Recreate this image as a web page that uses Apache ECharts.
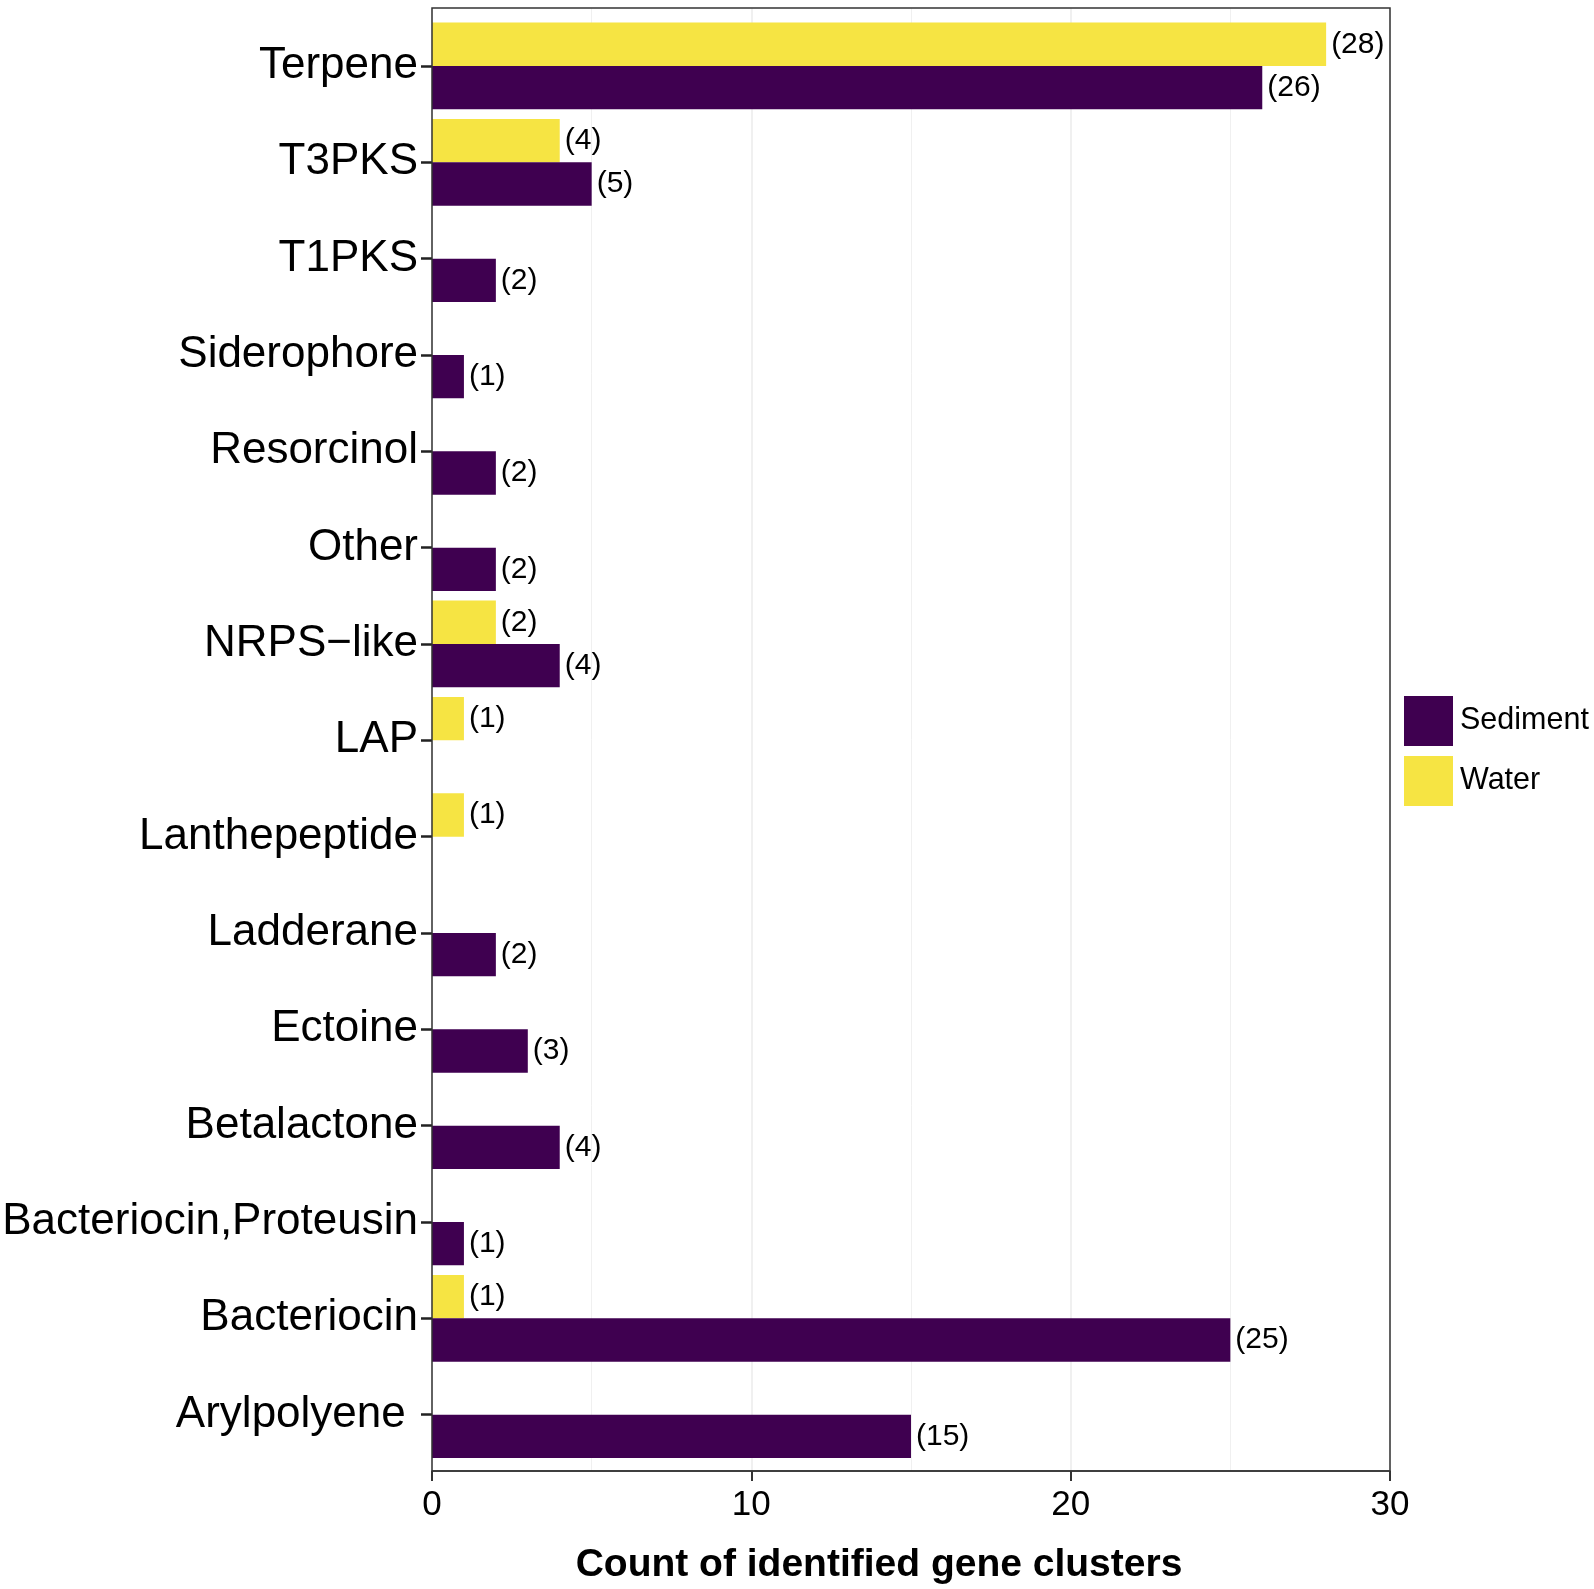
<!DOCTYPE html>
<html>
<head>
<meta charset="utf-8">
<script src="https://cdn.jsdelivr.net/npm/echarts@6/dist/echarts.min.js"></script>
<style>html,body{margin:0;padding:0;background:#fff;}#c{width:1594px;height:1589px;}</style>
</head>
<body>
<div id="c"></div>
<script>
const categories = ['Terpene','T3PKS','T1PKS','Siderophore','Resorcinol','Other','NRPS\u2212like','LAP','Lanthepeptide','Ladderane','Ectoine','Betalactone','Bacteriocin,Proteusin','Bacteriocin','Arylpolyene '];
const sediment = [26, 5, 2, 1, 2, 2, 4, 0, 0, 2, 3, 4, 1, 25, 15];
const water    = [28, 4, 0, 0, 0, 0, 2, 1, 1, 0, 0, 0, 0, 1, 0];
const xTicks = [0, 10, 20, 30];

const FONT = '"Liberation Sans", Arial, Helvetica, sans-serif';
const chart = echarts.init(document.getElementById('c'), null, {renderer: 'canvas'});

const labelCfg = {
  show: true, position: 'right', distance: 5,
  fontFamily: FONT, fontSize: 30, color: '#000',
  formatter: p => p.value ? '(' + p.value + ')' : ''
};

chart.setOption({
  animation: false,
  backgroundColor: '#fff',
  grid: [
    {left: 432, right: 204, top: 17.8, bottom: 126.2, show: false, containLabel: false, outerBoundsMode: 'none'},
    {left: 432, right: 204, top: 8, bottom: 118, show: true, borderColor: '#333', borderWidth: 1.5, backgroundColor: 'rgba(0,0,0,0)', z: 3, containLabel: false, outerBoundsMode: 'none'}
  ],
  legend: {
    orient: 'vertical', left: 1399, top: 691, itemWidth: 49, itemHeight: 50, itemGap: 10,
    icon: 'rect', data: ['Sediment', 'Water'],
    textStyle: {fontFamily: FONT, fontSize: 30.5, color: '#000', padding: [0, 0, 0, 2]}
  },
  xAxis: [
    {gridIndex: 0, type: 'value', min: 0, max: 30, interval: 10, show: false},
    {gridIndex: 1, type: 'value', min: xTicks[0], max: xTicks[xTicks.length - 1], interval: 10,
     axisLine: {show: true, lineStyle: {color: '#333', width: 1.5}},
     axisTick: {show: true, length: 10, lineStyle: {color: '#333', width: 2}},
     axisLabel: {fontFamily: FONT, fontSize: 35, color: '#000', margin: 17},
     splitLine: {show: true, lineStyle: {color: '#EBEBEB', width: 1.5}},
     minorTick: {show: false, splitNumber: 2},
     minorSplitLine: {show: true, lineStyle: {color: '#F0F0F0', width: 1}},
     name: 'Count of identified gene clusters', nameLocation: 'middle', nameGap: 75,
     nameTextStyle: {fontFamily: FONT, fontSize: 39, fontWeight: 'bold', color: '#000', padding: [0, 64, 0, 0]}
    }
  ],
  yAxis: [
    {gridIndex: 0, type: 'category', data: categories, inverse: true,
     axisLine: {show: false},
     axisTick: {show: true, alignWithLabel: true, length: 11, lineStyle: {color: '#222', width: 2.5}},
     axisLabel: {fontFamily: FONT, fontSize: 44, color: '#000', margin: 14},
     name: 'BGC Class', nameLocation: 'middle', nameGap: 362,
     nameTextStyle: {fontFamily: FONT, fontSize: 47, fontWeight: 'bold', color: '#000', padding: [0, 44, 0, 0]}
    },
    {gridIndex: 1, type: 'value', show: false}
  ],
  series: [
    {name: 'Water', type: 'bar', xAxisIndex: 0, yAxisIndex: 0, data: water,
     itemStyle: {color: '#F6E443'}, barGap: '0%', barCategoryGap: '10%', label: labelCfg},
    {name: 'Sediment', type: 'bar', xAxisIndex: 0, yAxisIndex: 0, data: sediment,
     itemStyle: {color: '#3F0050'}, barGap: '0%', barCategoryGap: '10%', label: labelCfg}
  ]
});
</script>
</body>
</html>
